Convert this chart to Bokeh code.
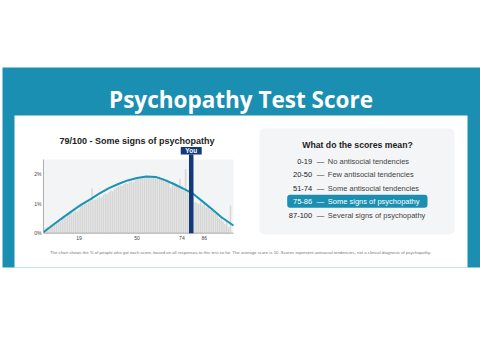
from bokeh.plotting import figure
from bokeh.models import Range1d, BoxAnnotation
from bokeh.core.properties import value
from bokeh.embed import file_html
from bokeh.resources import INLINE

# ---------------- data ----------------
scores = list(range(1, 101))
share_pct = [
    0.18, 0.22, 0.20, 0.27, 0.25, 0.30, 0.33, 0.42, 0.38, 0.48,
    0.55, 0.52, 0.62, 0.68, 0.72, 0.70, 0.76, 0.74, 0.80, 0.98,
    0.95, 1.02, 1.00, 1.05, 1.08, 1.52, 1.12, 1.15, 1.20, 1.24,
    1.22, 1.30, 1.35, 1.33, 1.40, 1.45, 1.42, 1.50, 1.55, 1.58,
    1.62, 1.60, 1.66, 1.70, 1.68, 1.74, 1.76, 1.72, 1.80, 1.84,
    1.88, 1.86, 1.90, 1.92, 1.89, 1.93, 1.95, 1.91, 1.94, 1.90,
    1.88, 1.92, 1.85, 1.87, 1.80, 1.82, 1.78, 1.55, 1.74, 1.70,
    1.66, 1.60, 1.85, 1.62, 1.45, 2.18, 1.40, 1.30, 1.25, 1.20,
    1.05, 1.02, 0.98, 1.05, 0.95, 1.00, 0.88, 0.92, 0.80, 0.85,
    0.75, 0.65, 0.70, 0.50, 0.55, 0.40, 0.30, 0.42, 0.20, 0.94,
]
curve_score = [0, 5, 10, 15, 20, 25, 30, 35, 40, 45, 50, 55, 60, 65, 70, 75, 80, 85, 90, 95, 100, 101.6]
curve_pct = [0.03, 0.28, 0.51, 0.74, 0.96, 1.15, 1.35, 1.53, 1.67, 1.79, 1.87, 1.92, 1.91, 1.80,
             1.66, 1.50, 1.34, 1.08, 0.82, 0.55, 0.33, 0.26]
x_ticks = [19, 50, 74, 86]
y_ticks = [0, 1, 2]
y_tick_labels = ["0%", "1%", "2%"]
you_score = 79
chart_title = "79/100 - Some signs of psychopathy"
page_title = "Psychopathy Test Score"
legend_title = "What do the scores mean?"
range_labels = ["0-19", "20-50", "51-74", "75-86", "87-100"]
range_desc = ["No antisocial tendencies", "Few antisocial tendencies", "Some antisocial tendencies",
              "Some signs of psychopathy", "Several signs of psychopathy"]
highlight_index = 3
footnote = ("The chart shows the % of people who got each score, based on all responses to this test so far. "
            "The average score is 50. Scores represent antisocial tendencies, not a clinical diagnosis of psychopathy.")

# ---------------- styles ----------------
TEAL = "#1b8fb1"
NAVY = "#13397a"
SANS = value("Liberation Sans")

p = figure(width=480, height=360, x_range=Range1d(0, 480), y_range=Range1d(360, 0),
           x_axis_location=None, y_axis_location=None, toolbar_location=None,
           output_backend="svg", min_border=0)
p.grid.visible = False
p.outline_line_color = None
p.background_fill_color = "white"
p.border_fill_color = "white"

# page decoration (pixel coordinates)
p.quad(left=2, right=480, top=67, bottom=267, fill_color=TEAL, line_color=None, level="image")
p.quad(left=14, right=467, top=115, bottom=267, fill_color="white", line_color=None, level="image")
p.text(x=[240.5], y=[99], text=[page_title], text_font=value("Open Sans"), text_font_style="bold",
       text_font_size="22.5px", text_color="white", text_align="center", text_baseline="alphabetic")

# ---------------- chart (sub coordinates) ----------------
xs = Range1d(0, 101.6)
ys = Range1d(0, 2.5)
sub = p.subplot(x_source=xs, y_source=ys, x_target=Range1d(43, 233), y_target=Range1d(232.7, 159))

sub.quad(left=[xs.start], right=[xs.end], bottom=[ys.start], top=[ys.end],
         fill_color="#f3f4f5", line_color=None)
sub.quad(left=[s - 0.4 for s in scores], right=[s + 0.4 for s in scores],
         bottom=0, top=share_pct, fill_color="#d6d6d6", line_color=None)
sub.line(curve_score, curve_pct, line_color="#1a93b8", line_width=2)
# axes
sub.segment(x0=[xs.start, xs.start], y0=[ys.start, ys.start], x1=[xs.start, xs.end], y1=[ys.end, ys.start],
            line_color="#9a9a9a", line_width=0.8)
sub.text(x=[xs.start] * len(y_ticks), y=y_ticks, text=y_tick_labels, x_offset=-2,
         text_font=SANS, text_font_size="5px", text_color="#444", text_align="right", text_baseline="middle")
sub.text(x=x_ticks, y=[ys.start] * len(x_ticks), text=[str(t) for t in x_ticks], y_offset=3,
         text_font=SANS, text_font_size="5px", text_color="#444", text_align="center", text_baseline="top")
# "You" marker
sub.quad(left=[you_score - 1.2], right=[you_score + 1.2], bottom=[0], top=[2.67],
         fill_color=NAVY, line_color=None)
sub.quad(left=[you_score - 5.6], right=[you_score + 5.6], bottom=[2.67], top=[2.92],
         fill_color=NAVY, line_color=None)
sub.text(x=[you_score], y=[2.795], text=["You"], text_font=SANS, text_font_style="bold",
         text_font_size="6.5px", text_color="white", text_align="center", text_baseline="middle")

p.text(x=[136.5], y=[140], text=[chart_title], text_font=SANS, text_font_style="bold",
       text_font_size="9px", text_color="#222", text_align="center", text_baseline="alphabetic")

# ---------------- legend card ----------------
p.add_layout(BoxAnnotation(left=259, right=454, top=128, bottom=234, fill_color="#f3f5f7", fill_alpha=1,
                           line_color=None, border_radius=5, level="underlay"))
row_y = [160.5, 174, 187.5, 201, 214.5]
hy = row_y[highlight_index]
p.add_layout(BoxAnnotation(left=286.7, right=427, top=hy - 6.7, bottom=hy + 6.3, fill_color=TEAL, fill_alpha=1,
                           line_color=None, border_radius=3, level="underlay"))
p.text(x=[357], y=[144], text=[legend_title], text_font=SANS, text_font_style="bold",
       text_font_size="8.7px", text_color="#222", text_align="center", text_baseline="alphabetic")
col_r = ["white" if i == highlight_index else "#222" for i in range(len(range_labels))]
col_d = ["white" if i == highlight_index else "#444" for i in range(len(range_labels))]
p.text(x=[311.7] * 5, y=row_y, text=range_labels, text_font=SANS, text_font_size="7.5px",
       text_color=col_r, text_align="right", text_baseline="middle")
p.text(x=[320] * 5, y=row_y, text=["\u2014"] * 5, text_font=SANS, text_font_size="7.5px",
       text_color=col_d, text_align="center", text_baseline="middle")
p.text(x=[327.3] * 5, y=row_y, text=range_desc, text_font=SANS, text_font_size="7.5px",
       text_color=col_d, text_align="left", text_baseline="middle")

# footnote
p.text(x=[240], y=[252], text=[footnote], text_font=SANS, text_font_size="4.3px",
       text_color="#777", text_align="center", text_baseline="middle")

open("out.html", "w").write(file_html(p, INLINE))
